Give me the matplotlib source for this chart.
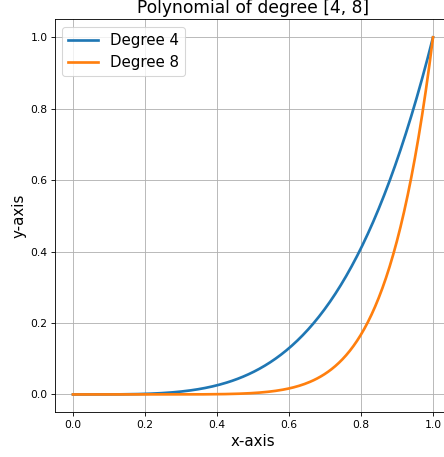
import matplotlib
matplotlib.use("Agg")
import matplotlib.pyplot as plt
import numpy as np

# chart data: polynomial degrees plotted over [0, 1]
degrees = [4, 8]
x_start, x_stop, n_points = 0.0, 1.0, 200
x_ticks = [0.0, 0.2, 0.4, 0.6, 0.8, 1.0]
y_ticks = [0.0, 0.2, 0.4, 0.6, 0.8, 1.0]


def main() -> None:
    x = np.linspace(x_start, x_stop, n_points)

    dpi = 77
    W, H = 444, 457
    fig = plt.figure(figsize=(W / dpi, H / dpi), dpi=dpi)
    left, right, top, bottom = 55, 451, 19.5, 412.3
    ax = fig.add_axes([left / W, (H - bottom) / H, (right - left) / W, (bottom - top) / H])

    for d in degrees:
        ax.plot(x, x ** d, linewidth=2.5, label=f"Degree {d}")

    ax.set_title(f"Polynomial of degree {degrees}", fontsize=16)
    ax.set_xlabel("x-axis", fontsize=14)
    ax.set_ylabel("y-axis", fontsize=14)
    ax.set_xticks(x_ticks)
    ax.set_yticks(y_ticks)
    ax.legend(loc="upper left", fontsize=14)
    ax.grid(True)

    fig.savefig("out.png", dpi=dpi)
    plt.close(fig)


if __name__ == "__main__":
    main()
